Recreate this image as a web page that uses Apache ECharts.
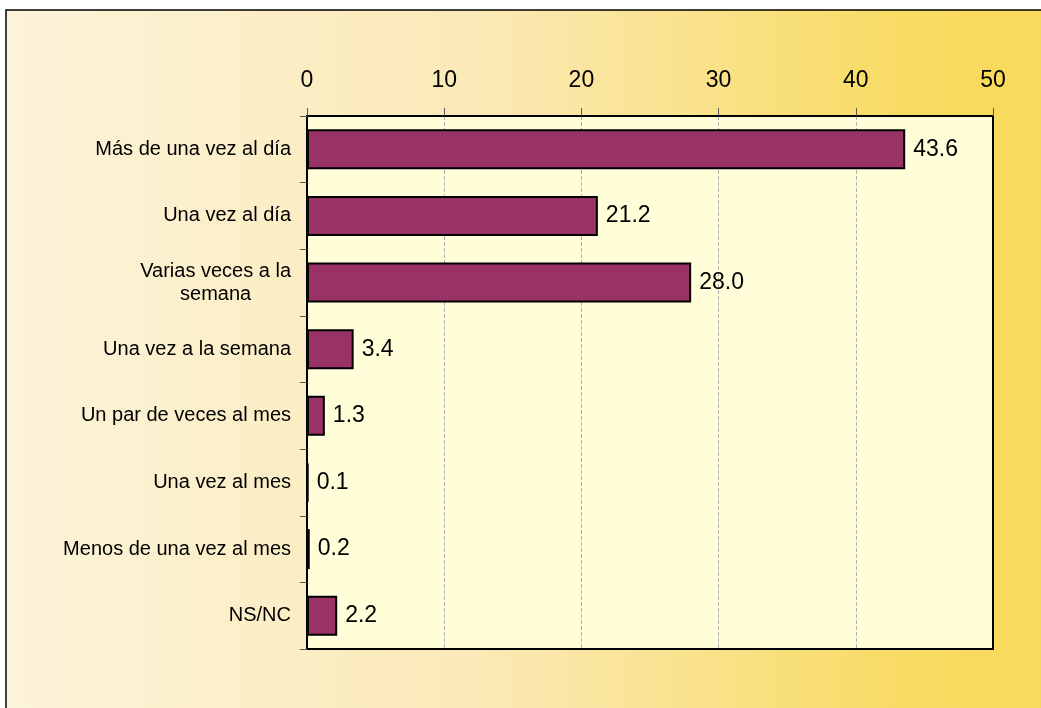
<!DOCTYPE html>
<html>
<head>
<meta charset="utf-8">
<script src="https://cdn.jsdelivr.net/npm/echarts@6/dist/echarts.min.js"></script>
<style>
  html, body { margin: 0; padding: 0; background: #fff; }
  #chart { width: 1041px; height: 708px; }
</style>
</head>
<body>
<div id="chart"></div>
<script>
const categories = [
  'Más de una vez al día',
  'Una vez al día',
  'Varias veces a la\nsemana',
  'Una vez a la semana',
  'Un par de veces al mes',
  'Una vez al mes',
  'Menos de una vez al mes',
  'NS/NC'
];
const values = [43.6, 21.2, 28.0, 3.4, 1.3, 0.1, 0.2, 2.2];
const axisMin = 0;
const axisMax = 50;
const axisStep = 10;

const fontFamily = '"Liberation Sans", Arial, sans-serif';

const chart = echarts.init(document.getElementById('chart'));

const option = {
  animation: false,
  textStyle: { fontFamily },
  graphic: [
    {
      type: 'rect',
      z: -10,
      shape: { x: 6, y: 10, width: 1060, height: 720 },
      style: {
        fill: new echarts.graphic.LinearGradient(0, 0, 1, 0, [
          { offset: 0, color: '#FCF4DA' },
          { offset: 0.45, color: '#FBE9B6' },
          { offset: 0.85, color: '#F8DB62' },
          { offset: 1, color: '#F8D95A' }
        ]),
        stroke: '#000',
        lineWidth: 1.5
      }
    }
  ],
  grid: {
    left: 307,
    top: 116,
    right: 48,
    bottom: 59,
    show: true,
    backgroundColor: '#FFFED9',
    borderColor: '#000',
    borderWidth: 2
  },
  xAxis: {
    type: 'value',
    position: 'top',
    min: axisMin,
    max: axisMax,
    interval: axisStep,
    axisLine: { show: true, lineStyle: { color: '#000', width: 2 } },
    axisTick: { show: true, length: 8, lineStyle: { color: '#555' } },
    axisLabel: { fontSize: 23, color: '#000', margin: 24, fontFamily },
    splitLine: {
      show: true,
      showMinLine: false,
      showMaxLine: false,
      lineStyle: { color: '#B0B0B0', type: 'dashed', width: 1 }
    }
  },
  yAxis: {
    type: 'category',
    inverse: true,
    data: categories,
    axisLine: { show: true, lineStyle: { color: '#000', width: 2 } },
    axisTick: { show: true, length: 7, alignWithLabel: false, lineStyle: { color: '#555' } },
    axisLabel: {
      fontSize: 20,
      color: '#000',
      margin: 16,
      fontFamily,
      lineHeight: 23,
      formatter: (v) => v.indexOf('\n') >= 0
        ? v.split('\n').map((s) => '{c|' + s + '}').join('\n')
        : v,
      rich: {
        c: { fontSize: 20, color: '#000', align: 'center', lineHeight: 23, fontFamily }
      }
    }
  },
  series: [
    {
      type: 'bar',
      data: values,
      barWidth: '60%',
      itemStyle: { color: '#993366', borderColor: '#000', borderWidth: 2 },
      label: {
        show: true,
        position: 'right',
        distance: 8,
        fontSize: 23,
        color: '#000',
        fontFamily,
        formatter: (p) => p.value.toFixed(1)
      }
    }
  ]
};

chart.setOption(option);
</script>
</body>
</html>
